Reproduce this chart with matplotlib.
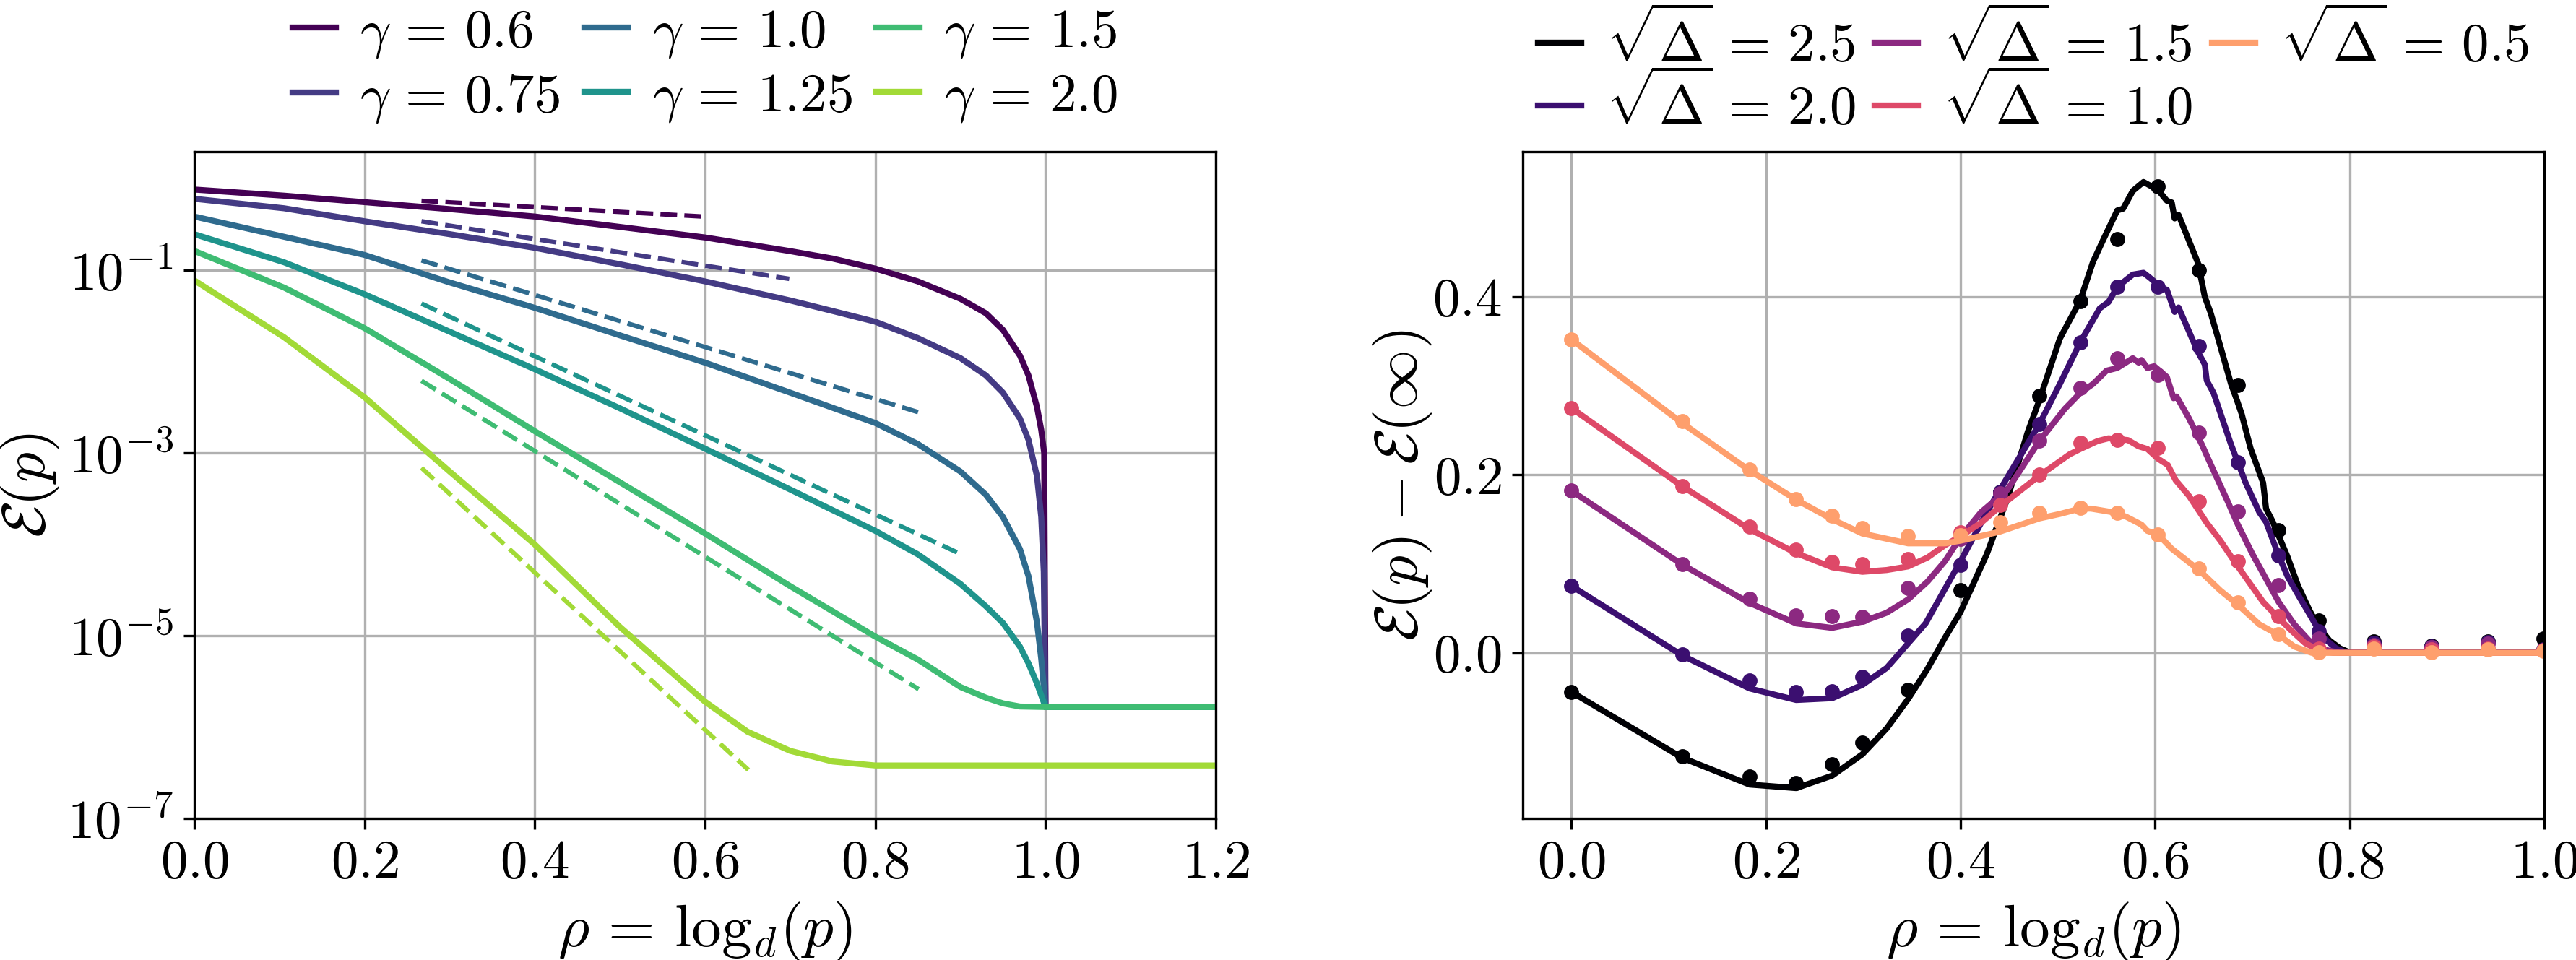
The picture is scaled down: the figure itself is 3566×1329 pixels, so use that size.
import numpy as np
import matplotlib
matplotlib.use('Agg')
import matplotlib.pyplot as plt
from matplotlib.ticker import NullLocator

plt.rcParams['font.family'] = ['cmr10', 'DejaVu Serif']
plt.rcParams['mathtext.fontset'] = 'cm'
plt.rcParams['axes.formatter.use_mathtext'] = True
plt.rcParams['axes.unicode_minus'] = False

# ---------------------------------------------------------------- left panel
gammas = [0.6, 0.75, 1.0, 1.25, 1.5, 2.0]

x_g06 = [0.0, 0.1055, 0.2, 0.3, 0.4, 0.5, 0.6, 0.7, 0.75, 0.8, 0.85, 0.9, 0.93, 0.95,
         0.97, 0.98, 0.99, 0.995, 0.9985, 1.0, 1.2]
y_g06 = [0.77, 0.66, 0.56, 0.47, 0.39, 0.30, 0.23, 0.163, 0.135, 0.105, 0.076, 0.049, 0.034,
         0.0224, 0.0117, 0.0071, 0.0032, 0.0018, 0.001, 1.66e-6, 1.66e-6]

x_g075 = [0.0, 0.1055, 0.2, 0.3, 0.4, 0.5, 0.6, 0.7, 0.75, 0.8, 0.85, 0.9, 0.93, 0.95,
          0.97, 0.98, 0.99, 0.995, 0.998, 1.0, 1.2]
y_g075 = [0.61, 0.48, 0.346, 0.25, 0.177, 0.117, 0.076, 0.047, 0.036, 0.0275, 0.0182, 0.011,
          0.0071, 0.0046, 0.0024, 0.0014, 5.6e-4, 2.0e-4, 5.0e-5, 1.66e-6, 1.66e-6]

x_g10 = [0.0, 0.1055, 0.2, 0.3, 0.4, 0.5, 0.6, 0.7, 0.8, 0.85, 0.9, 0.93, 0.95, 0.97,
         0.98, 0.99, 0.995, 0.998, 1.0, 1.2]
y_g10 = [0.39, 0.234, 0.148, 0.074, 0.039, 0.0195, 0.0098, 0.0046, 0.00214, 0.00126, 6.3e-4,
         3.5e-4, 2.0e-4, 8.9e-5, 4.5e-5, 1.4e-5, 5.6e-6, 2.8e-6, 1.66e-6, 1.66e-6]

x_g125 = [0.0, 0.1055, 0.2, 0.3, 0.4, 0.5, 0.6, 0.7, 0.8, 0.85, 0.9, 0.93, 0.95, 0.97,
          0.98, 0.99, 1.0, 1.2]
y_g125 = [0.25, 0.123, 0.055, 0.0214, 0.0083, 0.0031, 0.00112, 4.0e-4, 1.41e-4, 7.8e-5,
          3.7e-5, 2.1e-5, 1.38e-5, 7.6e-6, 5.0e-6, 3.0e-6, 1.66e-6, 1.66e-6]

x_g15 = [0.0, 0.1055, 0.2, 0.3, 0.4, 0.5, 0.6, 0.7, 0.8, 0.85, 0.9, 0.93, 0.95, 0.97, 1.0, 1.2]
y_g15 = [0.164, 0.065, 0.0234, 0.0065, 0.00174, 4.8e-4, 1.32e-4, 3.5e-5, 9.8e-6, 5.5e-6,
         2.75e-6, 2.1e-6, 1.82e-6, 1.68e-6, 1.66e-6, 1.66e-6]

x_g20 = [0.0, 0.1055, 0.2, 0.3, 0.4, 0.5, 0.6, 0.65, 0.7, 0.75, 0.8, 1.2]
y_g20 = [0.078, 0.0186, 0.0041, 6.3e-4, 1.0e-4, 1.25e-5, 1.9e-6, 8.9e-7, 5.5e-7, 4.2e-7, 3.8e-7, 3.8e-7]

# asymptotic (dashed) lines: start / end
dash_x = [[0.267, 0.597], [0.267, 0.699], [0.267, 0.851], [0.267, 0.896], [0.267, 0.851], [0.267, 0.651]]
dash_y = [[0.58, 0.39], [0.346, 0.081], [0.129, 0.0028], [0.0434, 8.2e-5], [0.0062, 2.6e-6], [6.9e-4, 3.4e-7]]

# ---------------------------------------------------------------- right panel
deltas = [2.5, 2.0, 1.5, 1.0, 0.5]

x_dots = [0.0, 0.114, 0.183, 0.231, 0.268, 0.299, 0.346, 0.400, 0.441, 0.481, 0.523,
          0.561, 0.603, 0.645, 0.685, 0.727, 0.768, 0.825, 0.884, 0.942, 0.999]
dots_25 = [-0.044, -0.116, -0.139, -0.146, -0.125, -0.101, -0.042, 0.070, 0.181, 0.289, 0.395,
           0.465, 0.524, 0.430, 0.301, 0.138, 0.036, 0.013, 0.008, 0.013, 0.016]
dots_20 = [0.075, -0.002, -0.031, -0.044, -0.043, -0.027, 0.019, 0.099, 0.181, 0.257, 0.349,
           0.411, 0.411, 0.345, 0.214, 0.109, 0.024, 0.011, 0.007, 0.012, 0.004]
dots_15 = [0.182, 0.100, 0.061, 0.042, 0.041, 0.040, 0.073, 0.128, 0.179, 0.238, 0.298,
           0.331, 0.312, 0.247, 0.159, 0.076, 0.016, 0.009, 0.006, 0.010, 0.003]
dots_10 = [0.275, 0.187, 0.142, 0.116, 0.102, 0.100, 0.105, 0.135, 0.166, 0.200, 0.236,
           0.239, 0.230, 0.170, 0.103, 0.041, 0.005, 0.007, 0.004, 0.005, 0.003]
dots_05 = [0.352, 0.260, 0.206, 0.173, 0.154, 0.140, 0.131, 0.132, 0.147, 0.157, 0.163,
           0.157, 0.133, 0.095, 0.057, 0.021, 0.001, 0.005, 0.001, 0.004, 0.002]

x_l25 = [0.0, 0.114, 0.183, 0.231, 0.268, 0.299, 0.324, 0.346, 0.366, 0.384, 0.400, 0.427, 0.448,
         0.469, 0.481, 0.502, 0.523, 0.536, 0.547, 0.561, 0.567, 0.577, 0.588, 0.603, 0.612,
         0.617, 0.620, 0.624, 0.644, 0.651, 0.657, 0.664, 0.678, 0.684, 0.689, 0.698, 0.711,
         0.714, 0.721, 0.736, 0.747, 0.759, 0.768, 0.779, 0.790, 0.801, 0.85, 0.9, 0.95, 1.0]
y_l25 = [-0.044, -0.118, -0.148, -0.152, -0.138, -0.114, -0.085, -0.052, -0.018, 0.017, 0.046,
         0.111, 0.173, 0.248, 0.284, 0.353, 0.396, 0.439, 0.465, 0.497, 0.499, 0.519, 0.529,
         0.520, 0.508, 0.506, 0.488, 0.492, 0.438, 0.400, 0.382, 0.356, 0.302, 0.284, 0.268,
         0.230, 0.191, 0.162, 0.147, 0.108, 0.075, 0.047, 0.029, 0.014, 0.005, 0.0, 0.0, 0.0, 0.0, 0.0]

x_l20 = [0.0, 0.114, 0.183, 0.231, 0.268, 0.299, 0.324, 0.364, 0.400, 0.427, 0.448, 0.481, 0.502,
         0.523, 0.543, 0.552, 0.561, 0.577, 0.588, 0.595, 0.608, 0.612, 0.620, 0.624, 0.644,
         0.651, 0.653, 0.660, 0.678, 0.685, 0.693, 0.707, 0.714, 0.727, 0.736, 0.747, 0.761,
         0.772, 0.786, 0.797, 0.85, 0.9, 0.95, 1.0]
y_l20 = [0.075, -0.003, -0.040, -0.053, -0.051, -0.036, -0.017, 0.033, 0.103, 0.158, 0.197,
         0.257, 0.302, 0.349, 0.387, 0.394, 0.411, 0.425, 0.427, 0.421, 0.409, 0.408, 0.383,
         0.388, 0.338, 0.324, 0.306, 0.292, 0.234, 0.214, 0.191, 0.158, 0.147, 0.109, 0.086,
         0.065, 0.039, 0.018, 0.005, 0.0, 0.0, 0.0, 0.0, 0.0]

x_l15 = [0.0, 0.114, 0.183, 0.231, 0.268, 0.299, 0.324, 0.346, 0.366, 0.384, 0.400, 0.421, 0.448,
         0.481, 0.507, 0.523, 0.536, 0.550, 0.561, 0.577, 0.583, 0.586, 0.592, 0.599, 0.612,
         0.619, 0.622, 0.635, 0.648, 0.657, 0.675, 0.685, 0.700, 0.714, 0.727, 0.743, 0.758,
         0.772, 0.790, 0.85, 0.9, 0.95, 1.0]
y_l15 = [0.182, 0.099, 0.056, 0.033, 0.028, 0.035, 0.045, 0.060, 0.080, 0.103, 0.130, 0.158, 0.183,
         0.238, 0.274, 0.292, 0.302, 0.317, 0.320, 0.331, 0.326, 0.329, 0.320, 0.322, 0.310,
         0.286, 0.288, 0.263, 0.234, 0.212, 0.169, 0.144, 0.111, 0.083, 0.057, 0.032, 0.014,
         0.004, 0.0, 0.0, 0.0, 0.0, 0.0]

x_l10 = [0.0, 0.114, 0.183, 0.231, 0.268, 0.299, 0.324, 0.346, 0.366, 0.384, 0.400, 0.421, 0.440,
         0.481, 0.512, 0.523, 0.541, 0.552, 0.572, 0.583, 0.592, 0.603, 0.613, 0.621, 0.635,
         0.653, 0.667, 0.685, 0.711, 0.727, 0.740, 0.754, 0.768, 0.783, 0.85, 0.9, 0.95, 1.0]
y_l10 = [0.275, 0.187, 0.139, 0.112, 0.096, 0.091, 0.093, 0.097, 0.107, 0.121, 0.131, 0.146, 0.164,
         0.199, 0.223, 0.229, 0.238, 0.241, 0.239, 0.232, 0.229, 0.218, 0.211, 0.194, 0.176,
         0.146, 0.126, 0.097, 0.057, 0.039, 0.025, 0.011, 0.003, 0.0, 0.0, 0.0, 0.0, 0.0]

x_l05 = [0.0, 0.114, 0.183, 0.231, 0.268, 0.299, 0.346, 0.384, 0.400, 0.440, 0.481, 0.502, 0.523,
         0.534, 0.545, 0.556, 0.570, 0.586, 0.592, 0.603, 0.617, 0.645, 0.667, 0.685, 0.707,
         0.727, 0.743, 0.761, 0.85, 0.9, 0.95, 1.0]
y_l05 = [0.352, 0.258, 0.205, 0.172, 0.150, 0.134, 0.123, 0.123, 0.126, 0.136, 0.151, 0.156, 0.162,
         0.162, 0.160, 0.158, 0.153, 0.144, 0.137, 0.133, 0.117, 0.093, 0.070, 0.054, 0.032,
         0.020, 0.007, 0.0, 0.0, 0.0, 0.0, 0.0]

###############################################################################
fig, (ax1, ax2) = plt.subplots(1, 2, figsize=(3566 / 300, 1329 / 300), dpi=300)
fig.subplots_adjust(left=0.0754, right=0.9877, bottom=0.1475, top=0.842, wspace=0.3006)

leg_kw = dict(loc='lower center', bbox_to_anchor=(0.5, 1.0), ncol=3, frameon=False,
              fontsize=18, handlelength=0.8, handletextpad=0.45, borderpad=0.2)
xlab = r'$\rho \,=\, \mathrm{log}_d(p)$'

vcols = plt.cm.viridis(np.linspace(0, 0.86, len(gammas)))
left_x = [x_g06, x_g075, x_g10, x_g125, x_g15, x_g20]
left_y = [y_g06, y_g075, y_g10, y_g125, y_g15, y_g20]
for i, g in enumerate(gammas):
    ax1.plot(left_x[i], left_y[i], color=vcols[i], lw=2, label=r'$\gamma \,=\, %s$' % g)
for i, g in enumerate(gammas):
    ax1.plot(dash_x[i], dash_y[i], '--', color=vcols[i], lw=1.5)

ax1.set_yscale('log')
ax1.set_xlim(0, 1.2)
ax1.set_ylim(1e-7, 2)
ax1.set_yticks([1e-7, 1e-5, 1e-3, 1e-1],
               labels=[r'$10^{-7}$', r'$10^{-5}$', r'$10^{-3}$', r'$10^{-1}$'])
ax1.yaxis.set_minor_locator(NullLocator())
ax1.set_xticks([0.0, 0.2, 0.4, 0.6, 0.8, 1.0, 1.2])
ax1.grid(True)
ax1.set_xlabel(xlab, fontsize=20)
ax1.set_ylabel(r'$\mathcal{E}(p)$', fontsize=20)
ax1.yaxis.set_label_coords(-0.13, 0.5)
ax1.tick_params(labelsize=18)
ax1.legend(labelspacing=0.24, borderaxespad=0.29, columnspacing=0.45, **leg_kw)

# right
mcols = plt.cm.magma(np.linspace(0, 0.8, len(deltas)))
right_x = [x_l25, x_l20, x_l15, x_l10, x_l05]
right_y = [y_l25, y_l20, y_l15, y_l10, y_l05]
right_dots = [dots_25, dots_20, dots_15, dots_10, dots_05]
for i, dl in enumerate(deltas):
    ax2.plot(right_x[i], right_y[i], color=mcols[i], lw=2, label=r'$\sqrt{\Delta} \,=\, %s$' % dl)
    ax2.plot(x_dots, right_dots[i], 'o', color=mcols[i], ms=4)

ax2.set_xlim(-0.05, 1.0)
ax2.set_xticks([0.0, 0.2, 0.4, 0.6, 0.8, 1.0])
ax2.set_yticks([0.0, 0.2, 0.4])
ax2.grid(True)
ax2.set_xlabel(xlab, fontsize=20)
ax2.set_ylabel(r'$\mathcal{E}(p) - \mathcal{E}(\infty)$', fontsize=20)
ax2.yaxis.set_label_coords(-0.087, 0.5)
ax2.tick_params(labelsize=18)
ax2.legend(labelspacing=0.0, borderaxespad=0.1, columnspacing=0.35, **leg_kw)

fig.savefig('out.png', dpi=300)
